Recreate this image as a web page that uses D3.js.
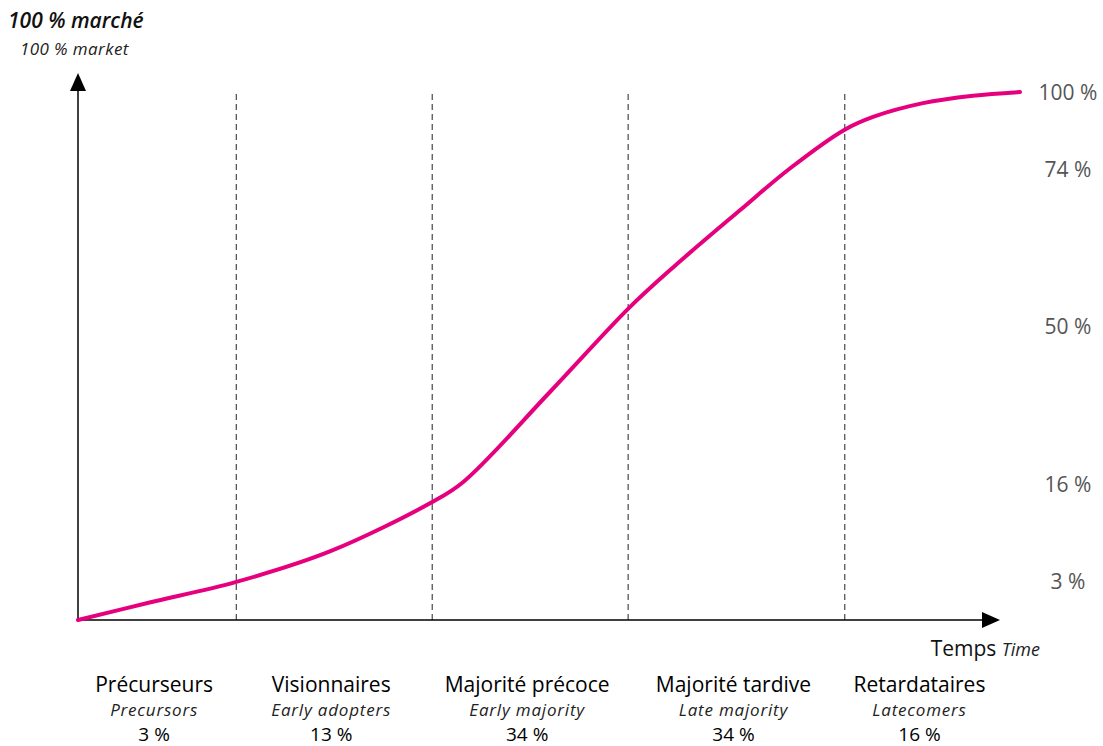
<!DOCTYPE html>
<html>
<head>
<meta charset="utf-8">
<script src="https://cdn.jsdelivr.net/npm/d3@7"></script>
<style>
  html, body { margin: 0; padding: 0; background: #fff; }
  svg { display: block; }
</style>
</head>
<body>
<script>
// ---- data ----
const curveT = [0, 76, 168, 268, 376, 409, 501, 585, 632, 703, 756, 813, 844, 897, 950, 1000];
const curveV = [0, 3.3, 7.2, 13.0, 22.3, 26.1, 43.1, 59.0, 66.7, 77.5, 85.4, 92.6, 95.1, 97.7, 99.1, 99.8];
const boundaries = [168, 376, 584, 814];
const segmentStart = [0, 168, 376, 584, 814];
const segmentEnd = [168, 376, 584, 814, 979];
const catFr = ["Précurseurs", "Visionnaires", "Majorité précoce", "Majorité tardive", "Retardataires"];
const catEn = ["Precursors", "Early adopters", "Early majority", "Late majority", "Latecomers"];
const catPct = ["3 %", "13 %", "34 %", "34 %", "16 %"];
const tickLabels = ["100 %", "74 %", "50 %", "16 %", "3 %"];
const tickLevels = [99.8, 85.1, 55.4, 25.7, 7.2];

const W = 1103, H = 746;
const svg = d3.select("body").append("svg").attr("width", W).attr("height", H);

const x = d3.scaleLinear().domain([0, 1000]).range([78, 1020]);
const y = d3.scaleLinear().domain([0, 100]).range([620, 91]);
const xAxisEnd = 1000, yAxisTop = 73;

const FONT = "'Open Sans', Lato, sans-serif";

// dashed separators
svg.selectAll("line.sep").data(boundaries).join("line")
  .attr("class", "sep")
  .attr("x1", d => x(d)).attr("x2", d => x(d))
  .attr("y1", y(0)).attr("y2", y(100) + 1)
  .attr("stroke", "#222").attr("stroke-width", 1)
  .attr("stroke-dasharray", "6,4");

// axes
svg.append("line").attr("x1", x(0)).attr("x2", xAxisEnd - 16)
  .attr("y1", y(0)).attr("y2", y(0)).attr("stroke", "#000").attr("stroke-width", 1.5);
svg.append("path")
  .attr("d", `M${xAxisEnd},${y(0)} L${xAxisEnd - 18},${y(0) - 8} L${xAxisEnd - 18},${y(0) + 8} Z`)
  .attr("fill", "#000");
svg.append("line").attr("x1", x(0)).attr("x2", x(0))
  .attr("y1", y(0)).attr("y2", yAxisTop + 16).attr("stroke", "#000").attr("stroke-width", 1.5);
svg.append("path")
  .attr("d", `M${x(0)},${yAxisTop} L${x(0) - 8},${yAxisTop + 18} L${x(0) + 8},${yAxisTop + 18} Z`)
  .attr("fill", "#000");

// curve
const pts = curveT.map((t, i) => [t, curveV[i]]);
const line = d3.line().x(d => x(d[0])).y(d => y(d[1])).curve(d3.curveCatmullRom.alpha(0.5));
svg.append("path").datum(pts).attr("d", line)
  .attr("fill", "none").attr("stroke", "#e6007e").attr("stroke-width", 4)
  .attr("stroke-linecap", "round");

// right tick labels
svg.selectAll("text.tick").data(tickLabels).join("text")
  .attr("class", "tick")
  .attr("x", 1068).attr("y", (d, i) => y(tickLevels[i]))
  .attr("dy", "0.36em")
  .attr("text-anchor", "middle")
  .attr("font-family", FONT)
  .attr("font-size", 21).attr("fill", "#555")
  .text(d => d);

// top-left titles
svg.append("text").attr("x", 8).attr("y", 28)
  .attr("font-family", FONT).attr("font-size", 21).attr("font-weight", 600).attr("font-style", "italic")
  .attr("fill", "#111").text("100 % marché");
svg.append("text").attr("x", 20).attr("y", 55)
  .attr("font-family", FONT).attr("font-size", 17).attr("font-style", "italic")
  .attr("letter-spacing", 0.4)
  .attr("fill", "#222").text("100 % market");

// Time label
const tl = svg.append("text").attr("x", 1040).attr("y", 656).attr("text-anchor", "end")
  .attr("font-family", FONT).attr("fill", "#111");
tl.append("tspan").attr("font-size", 21).text("Temps ");
tl.append("tspan").attr("font-size", 18).attr("font-style", "italic").attr("fill", "#222").text("Time");

// categories
const cx = i => (x(segmentStart[i]) + x(segmentEnd[i])) / 2 - 3;
const g = svg.selectAll("g.cat").data(catFr).join("g").attr("class", "cat");
g.append("text").attr("x", (d, i) => cx(i)).attr("y", 692).attr("text-anchor", "middle")
  .attr("font-family", FONT).attr("font-size", 21).attr("fill", "#000").text(d => d);
g.append("text").attr("x", (d, i) => cx(i)).attr("y", 716).attr("text-anchor", "middle")
  .attr("font-family", FONT).attr("font-size", 17).attr("font-style", "italic").attr("fill", "#222")
  .attr("letter-spacing", 0.8)
  .text((d, i) => catEn[i]);
g.append("text").attr("x", (d, i) => cx(i)).attr("y", 741).attr("text-anchor", "middle")
  .attr("font-family", FONT).attr("font-size", 19).attr("fill", "#000")
  .text((d, i) => catPct[i]);
</script>
</body>
</html>
